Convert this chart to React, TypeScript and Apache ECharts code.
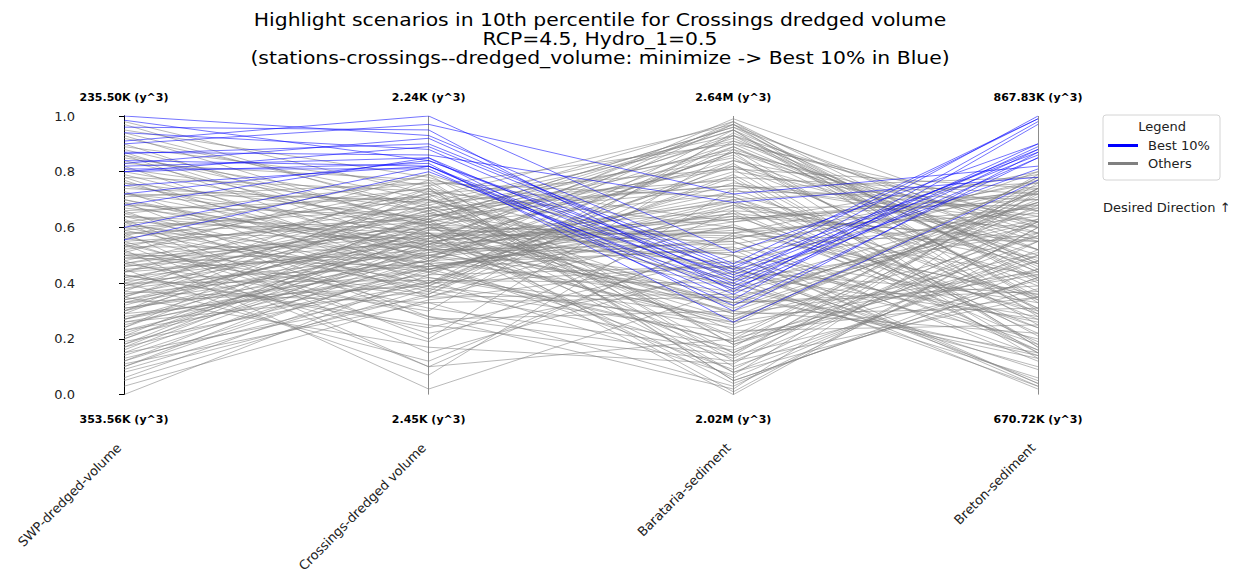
import React, { useEffect, useRef } from "react";
import * as echarts from "echarts";

const axisNames = ["SWP-dredged-volume", "Crossings-dredged volume", "Barataria-sediment", "Breton-sediment"];
const topLabels = ["235.50K (y^3)", "2.24K (y^3)", "2.64M (y^3)", "867.83K (y^3)"];
const bottomLabels = ["353.56K (y^3)", "2.45K (y^3)", "2.02M (y^3)", "670.72K (y^3)"];

// normalized values per scenario: [SWP, Crossings, Barataria, Breton]
const bestLines: number[][] = [
  [1.0, 0.93, 0.47, 0.99],
  [0.985, 0.84, 0.44, 0.88],
  [0.96, 0.95, 0.37, 0.98],
  [0.94, 0.88, 0.41, 1.0],
  [0.91, 1.0, 0.51, 0.9],
  [0.9, 0.97, 0.72, 0.82],
  [0.87, 0.86, 0.69, 0.78],
  [0.865, 0.9, 0.46, 0.87],
  [0.84, 0.82, 0.34, 0.97],
  [0.83, 0.92, 0.43, 0.86],
  [0.82, 0.85, 0.39, 0.89],
  [0.81, 0.81, 0.32, 0.85],
  [0.8, 0.83, 0.26, 0.77],
  [0.8, 0.89, 0.45, 0.99],
  [0.75, 0.82, 0.36, 0.88],
  [0.72, 0.84, 0.42, 0.81],
  [0.68, 0.85, 0.3, 0.87],
  [0.6, 0.82, 0.4, 0.9],
  [0.555, 0.8, 0.38, 0.85],
];

const otherLinesA: number[][] = [
  [0.98, 0.72, 0.15, 0.62], [0.97, 0.65, 0.88, 0.55], [0.95, 0.78, 0.42, 0.03], [0.93, 0.6, 0.95, 0.28],
  [0.92, 0.7, 0.2, 0.74], [0.9, 0.55, 0.63, 0.72], [0.89, 0.75, 0.05, 0.42], [0.88, 0.62, 0.78, 0.15],
  [0.86, 0.48, 0.33, 0.71], [0.85, 0.68, 0.91, 0.62], [0.84, 0.58, 0.55, 0.18], [0.83, 0.77, 0.12, 0.58],
  [0.82, 0.45, 0.7, 0.76], [0.81, 0.66, 0.98, 0.45], [0.79, 0.52, 0.25, 0.78], [0.78, 0.73, 0.6, 0.3],
  [0.77, 0.4, 0.84, 0.5], [0.76, 0.63, 0.08, 0.38], [0.75, 0.57, 0.47, 0.75], [0.74, 0.69, 0.93, 0.58],
  [0.73, 0.35, 0.36, 0.13], [0.72, 0.61, 0.72, 0.42], [0.71, 0.76, 0.18, 0.57], [0.7, 0.5, 0.65, 0.16],
  [0.69, 0.28, 0.02, 0.73], [0.68, 0.64, 0.81, 0.74], [0.67, 0.55, 0.4, 0.06], [0.66, 0.71, 0.97, 0.52],
  [0.65, 0.42, 0.28, 0.69], [0.64, 0.59, 0.57, 0.55], [0.63, 0.2, 0.88, 0.25], [0.62, 0.74, 0.1, 0.48],
  [0.61, 0.47, 0.52, 0.77], [0.6, 0.67, 0.75, 0.66], [0.59, 0.38, 0.22, 0.35], [0.58, 0.56, 0.9, 0.44],
  [0.57, 0.79, 0.45, 0.2], [0.56, 0.44, 0.68, 0.24], [0.55, 0.62, 0.15, 0.72], [0.54, 0.1, 0.58, 0.8],
  [0.53, 0.53, 0.99, 0.6], [0.52, 0.68, 0.31, 0.67], [0.51, 0.36, 0.83, 0.17], [0.5, 0.58, 0.04, 0.45],
  [0.49, 0.46, 0.62, 0.79], [0.48, 0.72, 0.38, 0.14], [0.47, 0.3, 0.94, 0.42], [0.46, 0.6, 0.27, 0.7],
];

const otherLinesB: number[][] = [
  [0.45, 0.5, 0.73, 0.7], [0.44, 0.65, 0.5, 0.04], [0.43, 0.25, 0.12, 0.35], [0.42, 0.54, 0.86, 0.29],
  [0.41, 0.7, 0.43, 0.27], [0.4, 0.41, 0.07, 0.76], [0.39, 0.57, 0.66, 0.19], [0.38, 0.63, 0.96, 0.56],
  [0.37, 0.33, 0.35, 0.15], [0.36, 0.48, 0.8, 0.64], [0.35, 0.66, 0.21, 0.74], [0.34, 0.52, 0.54, 0.72],
  [0.33, 0.39, 0.89, 0.37], [0.32, 0.61, 0.01, 0.6], [0.31, 0.45, 0.64, 0.29], [0.3, 0.55, 0.3, 0.22],
  [0.29, 0.69, 0.77, 0.13], [0.28, 0.43, 0.46, 0.02], [0.27, 0.59, 0.92, 0.46], [0.26, 0.37, 0.17, 0.79],
  [0.25, 0.51, 0.59, 0.65], [0.24, 0.64, 0.85, 0.31], [0.23, 0.42, 0.24, 0.51], [0.22, 0.56, 0.69, 0.47],
  [0.21, 0.47, 0.09, 0.62], [0.2, 0.6, 0.5, 0.33], [0.19, 0.4, 0.95, 0.34], [0.18, 0.53, 0.34, 0.69],
  [0.17, 0.44, 0.76, 0.58], [0.16, 0.58, 0.14, 0.77], [0.15, 0.35, 0.61, 0.24], [0.14, 0.49, 0.87, 0.17],
  [0.13, 0.39, 0.26, 0.43], [0.12, 0.46, 0.56, 0.74], [0.11, 0.33, 0.03, 0.55], [0.1, 0.52, 0.71, 0.34],
  [0.09, 0.41, 0.4, 0.1], [0.08, 0.36, 0.91, 0.48], [0.06, 0.45, 0.19, 0.68], [0.05, 0.38, 0.67, 0.68],
  [0.03, 0.34, 0.48, 0.26], [0.0, 0.43, 0.82, 0.39],
];

const otherLinesC: number[][] = [
  [0.52, 0.02, 0.38, 0.63], [0.45, 0.07, 0.74, 0.31], [0.58, 0.1, 0.2, 0.48], [0.4, 0.12, 0.57, 0.16],
  [0.62, 0.15, 0.46, 0.05], [0.35, 0.17, 0.11, 0.74], [0.48, 0.19, 0.66, 0.6], [0.55, 0.22, 0.44, 0.36],
  [0.43, 0.24, 0.5, 0.03], [0.66, 0.27, 0.3, 0.66], [0.7, 0.45, 0.53, 0.14], [0.64, 0.39, 0.79, 0.21],
  [0.57, 0.31, 0.16, 0.55], [0.5, 0.49, 0.63, 0.7], [0.46, 0.55, 0.97, 0.4], [0.42, 0.62, 0.29, 0.31],
  [0.38, 0.51, 0.7, 0.22], [0.34, 0.58, 0.06, 0.52], [0.31, 0.48, 0.55, 0.12], [0.27, 0.54, 0.84, 0.62],
  [0.23, 0.5, 0.37, 0.62], [0.72, 0.52, 0.89, 0.44], [0.68, 0.47, 0.13, 0.63], [0.6, 0.4, 0.46, 0.28],
  [0.54, 0.64, 0.74, 0.78], [0.47, 0.67, 0.23, 0.25], [0.41, 0.46, 0.6, 0.43], [0.36, 0.56, 0.93, 0.35],
  [0.3, 0.63, 0.41, 0.8], [0.26, 0.45, 0.69, 0.15], [0.62, 0.58, 0.32, 0.73], [0.8, 0.61, 0.56, 0.76],
  [0.76, 0.49, 0.98, 0.33], [0.56, 0.72, 0.81, 0.18], [0.49, 0.57, 0.0, 0.6], [0.44, 0.74, 0.52, 0.04],
  [0.39, 0.67, 0.87, 0.52], [0.33, 0.5, 0.27, 0.57], [0.29, 0.4, 0.78, 0.72], [0.2, 0.57, 0.58, 0.67],
  [0.18, 0.62, 0.95, 0.47], [0.12, 0.54, 0.33, 0.37], [0.87, 0.53, 0.65, 0.55], [0.94, 0.67, 0.29, 0.44],
  [0.65, 0.76, 0.71, 0.27], [0.59, 0.7, 0.39, 0.69], [0.53, 0.75, 0.9, 0.66], [0.51, 0.79, 0.18, 0.5],
  [0.37, 0.77, 0.62, 0.73], [0.24, 0.73, 0.44, 0.09],
];

const otherLinesD: number[][] = [
  [0.58, 0.63, 0.96, 0.41], [0.35, 0.71, 0.08, 0.5], [0.69, 0.52, 0.51, 0.64], [0.27, 0.48, 0.87, 0.6],
  [0.47, 0.61, 0.33, 0.39], [0.15, 0.55, 0.64, 0.56], [0.78, 0.44, 0.19, 0.45], [0.4, 0.66, 0.75, 0.62],
  [0.62, 0.37, 0.93, 0.47], [0.21, 0.65, 0.45, 0.68], [0.54, 0.28, 0.14, 0.41], [0.33, 0.6, 0.58, 0.36],
  [0.86, 0.62, 0.82, 0.52], [0.44, 0.52, 0.26, 0.78], [0.1, 0.47, 0.97, 0.3], [0.72, 0.7, 0.41, 0.58],
  [0.5, 0.35, 0.68, 0.49], [0.3, 0.74, 0.05, 0.42], [0.64, 0.54, 0.6, 0.35], [0.17, 0.6, 0.35, 0.61],
];

const FONT = "DejaVu Sans";

export default function App() {
  const ref = useRef<HTMLDivElement>(null);
  useEffect(() => {
    if (!ref.current) return;
    const chart = echarts.init(ref.current, undefined, { renderer: "svg" });
    const others = [...otherLinesA, ...otherLinesB, ...otherLinesC, ...otherLinesD];
    const mk = (row: number[], name: string, color: string) => ({
      type: "line",
      name,
      xAxisIndex: 0,
      yAxisIndex: 0,
      symbol: "none",
      silent: true,
      data: row.map((v, i) => [i, v]),
      lineStyle: { color, width: 1 },
      itemStyle: { color },
    });
    const series: any[] = [
      ...others.map((r) => mk(r, "Others", "rgba(128,128,128,0.55)")),
      ...bestLines.map((r) => mk(r, "Best 10%", "rgba(0,0,255,0.55)")),
    ];
    const baseX = {
      type: "value",
      min: 0,
      max: 3,
      interval: 1,
      axisLine: { show: false },
      axisTick: { show: false },
      splitLine: { show: false },
    };
    chart.setOption({
      animation: false,
      textStyle: { fontFamily: FONT },
      grid: { left: 124, right: 201, top: 116, bottom: 180, containLabel: false },
      xAxis: [
        {
          ...baseX,
          position: "bottom",
          splitLine: { show: true, lineStyle: { color: "#8c8c8c", width: 1 } },
          axisLabel: {
            formatter: (v: number) => bottomLabels[v],
            fontWeight: "bold",
            fontSize: 11,
            color: "#000",
            margin: 19,
            showMinLabel: true,
            showMaxLabel: true,
          },
        },
        {
          ...baseX,
          position: "bottom",
          axisLabel: {
            formatter: (v: number) => axisNames[v],
            rotate: 45,
            fontSize: 13,
            color: "#222",
            margin: 46,
            padding: [0, 7, 0, 0],
            showMinLabel: true,
            showMaxLabel: true,
          },
        },
        {
          ...baseX,
          position: "top",
          axisLabel: {
            formatter: (v: number) => topLabels[v],
            fontWeight: "bold",
            fontSize: 11,
            color: "#000",
            margin: 13,
            showMinLabel: true,
            showMaxLabel: true,
          },
        },
      ],
      yAxis: [
        {
          type: "value",
          position: "left",
          offset: 44,
          min: 0,
          max: 1,
          interval: 0.2,
          axisLine: { show: true, lineStyle: { color: "#000", width: 1 } },
          axisTick: { show: true, length: 5, lineStyle: { color: "#000" } },
          axisLabel: { formatter: (v: number) => v.toFixed(1), fontSize: 13, color: "#222", margin: 5 },
          splitLine: { show: false },
        },
        {
          type: "value",
          position: "right",
          offset: 45,
          min: 0,
          max: 1,
          axisLine: { show: true, lineStyle: { color: "#000", width: 1 } },
          axisTick: { show: false },
          axisLabel: { show: false },
          splitLine: { show: false },
        },
      ],
      legend: {
        orient: "vertical",
        left: 1101,
        top: 115,
        padding: [24, 8, 6, 7],
        itemGap: 5,
        itemWidth: 30,
        itemHeight: 3,
        icon: "rect",
        textStyle: { fontSize: 13, color: "#222", fontFamily: FONT, padding: [0, 0, 0, 5] },
        data: [
          { name: "Best 10%", itemStyle: { color: "#0000ff", opacity: 1 } },
          { name: "Others", itemStyle: { color: "#808080", opacity: 1 } },
        ],
      },
      graphic: [
        {
          type: "text",
          x: 600,
          y: 10,
          scaleX: 1.13,
          style: {
            text:
              "Highlight scenarios in 10th percentile for Crossings dredged volume\nRCP=4.5, Hydro_1=0.5\n(stations-crossings--dredged_volume: minimize -> Best 10% in Blue)",
            textAlign: "center",
            fontSize: 18,
            lineHeight: 19,
            fill: "#000",
            fontFamily: FONT,
          },
        },
        {
          type: "rect",
          shape: { x: 1103, y: 115, width: 117, height: 65, r: 3 },
          style: { fill: "rgba(255,255,255,0.8)", stroke: "#d4d4d4", lineWidth: 1 },
          z: -1,
        },
        {
          type: "text",
          x: 1162,
          y: 120,
          style: { text: "Legend", textAlign: "center", fontSize: 13, fill: "#222", fontFamily: FONT },
        },
        {
          type: "text",
          x: 1103,
          y: 201,
          style: { text: "Desired Direction ↑", fontSize: 13, fill: "#222", fontFamily: FONT },
        },
      ],
      series,
    });
    return () => chart.dispose();
  }, []);
  return (
    <div
      ref={ref}
      style={{ position: "fixed", left: 0, top: 0, width: 1239, height: 575, background: "#fff" }}
    />
  );
}
